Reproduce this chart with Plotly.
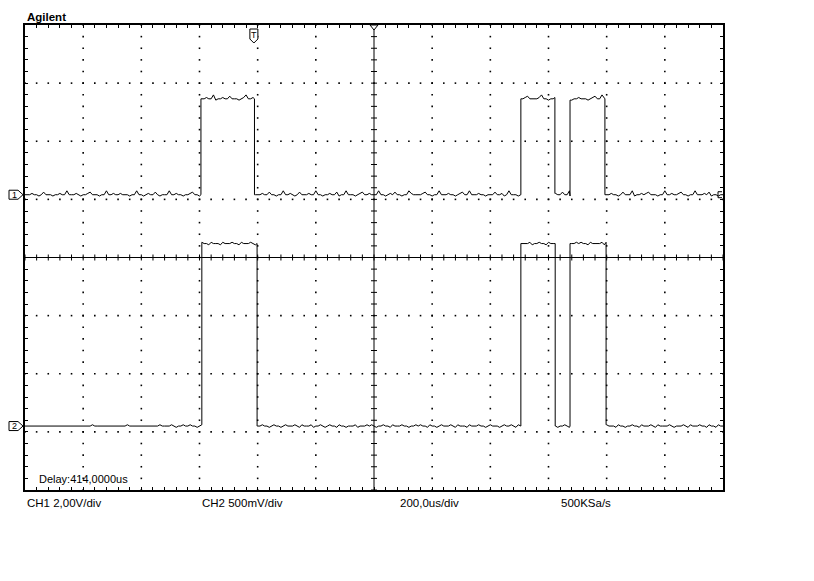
import plotly.graph_objects as go

time_per_div_us = 200
delay_us = 414
n_hdiv = 12
n_vdiv = 8
sample_step_us = 8

ch1_volts_per_div = 2.0
ch2_volts_per_div = 0.5
ch1_offset_div = 1.08
ch2_offset_div = -2.9

ch1_low_v, ch1_high_v = 0.0, 3.3
ch2_low_v, ch2_high_v = 0.0, 1.57

ch1_rise_us = [-181, 919, 1088]
ch1_fall_us = [3, 1036, 1208]
ch2_rise_us = [-178, 919, 1088]
ch2_fall_us = [12, 1037, 1212]

ch1_noise_digits = (
    "4445443464" "4434454474" "4454344564" "4434474454" "4544434474"
    "4345446434" "4474454434" "4564434454" "4734454464" "4434574454"
    "4454464434" "4744543464" "4454474434" "4544634474" "4434564454"
    "4474434546" "4434475444" "4564434474" "4454434564" "4744454434"
    "4464453474" "4434456444" "4574434454" "4644734454" "4434564474"
    "4454434644" "4734454564" "4434474454" "4564434474" "4454634434"
    "4"
)
ch2_noise_digits = (
    "4444444444" "4444444444" "4444444445" "4444444444" "4444544444"
    "4444444454" "4445434454" "4544345443" "5444354445" "4435444543"
    "4454434544" "3454445435" "4445344543" "4544354434" "4453444545"
    "4344544354" "4454434454" "5443544345" "4445435444" "3544454434"
    "5444345445" "4354444534" "4544354443" "4454344545" "4435444453"
    "5444354434" "4544354445" "4354444543" "4445435444" "5443544354"
    "4"
)
ch1_noise_v = [(int(c) - 4) * 0.045 for c in ch1_noise_digits]
ch2_noise_v = [(int(c) - 4) * 0.011 for c in ch2_noise_digits]

label_brand = "Agilent"
label_delay = "Delay:414,0000us"
label_ch1 = "CH1 2,00V/div"
label_ch2 = "CH2 500mV/div"
label_time = "200,0us/div"
label_rate = "500KSa/s"

# ---------------- derived axis geometry ----------------
x_start = delay_us - n_hdiv / 2 * time_per_div_us
x_end = delay_us + n_hdiv / 2 * time_per_div_us
y_lo, y_hi = -n_vdiv / 2, n_vdiv / 2

PAGE_OFF = 8                 # browser body margin
FIG_W, FIG_H = 814 - PAGE_OFF, 581 - PAGE_OFF
SCR_L, SCR_T, PLOT_W, PLOT_H = 25, 25, 698, 465   # plot area in screen pixels
PLOT_L, PLOT_T = SCR_L - PAGE_OFF, SCR_T - PAGE_OFF
px_x = time_per_div_us * n_hdiv / PLOT_W
px_y = n_vdiv / PLOT_H


def build_trace(rises, falls, low, high, noise, vpd, off):
    edges = sorted([(t, low, high) for t in rises] + [(t, high, low) for t in falls])
    xs, ys = [], []
    ei = 0
    for k, n in enumerate(noise):
        t = x_start + k * sample_step_us
        while ei < len(edges) and edges[ei][0] <= t:
            te, a, b = edges[ei]
            xs += [te, te]
            ys += [(a + n) / vpd + off, (b + n) / vpd + off]
            ei += 1
        high_now = any(r <= t < f for r, f in zip(rises, falls))
        v = (high if high_now else low) + n
        xs.append(t)
        ys.append(v / vpd + off)
    return xs, ys


fig = go.Figure()

# center axes with minor ticks
cx = delay_us
cl_x, cl_y = [x_start, x_end, None, cx, cx], [0, 0, None, y_lo, y_hi]
tl = 3 * px_y
for i in range(int(n_hdiv * 5) + 1):
    t = x_start + i * time_per_div_us / 5
    cl_x += [None, t, t]
    cl_y += [None, -tl, tl]
tlx = 3 * px_x
for j in range(n_vdiv * 5 + 1):
    yy = y_lo + j * 0.2
    cl_x += [None, cx - tlx, cx + tlx]
    cl_y += [None, yy, yy]
fig.add_trace(go.Scatter(x=cl_x, y=cl_y, mode="lines",
                         line=dict(color="black", width=1), hoverinfo="skip"))

# dotted graticule
dx, dy = [], []
for k in range(1, n_hdiv):
    if k == n_hdiv // 2:
        continue
    xv = x_start + k * time_per_div_us
    for j in range(n_vdiv * 5 + 1):
        dx.append(xv)
        dy.append(y_lo + j * 0.2)
for j in range(1, n_vdiv):
    yv = y_lo + j
    if abs(yv) < 1e-9:
        continue
    for i in range(n_hdiv * 5 + 1):
        dx.append(x_start + i * time_per_div_us / 5)
        dy.append(yv)
fig.add_trace(go.Scatter(x=dx, y=dy, mode="markers",
                         marker=dict(symbol="square", size=1.6, color="black",
                                     line=dict(width=0)),
                         hoverinfo="skip"))

# signals
x1, y1 = build_trace(ch1_rise_us, ch1_fall_us, ch1_low_v, ch1_high_v,
                     ch1_noise_v, ch1_volts_per_div, ch1_offset_div)
x2, y2 = build_trace(ch2_rise_us, ch2_fall_us, ch2_low_v, ch2_high_v,
                     ch2_noise_v, ch2_volts_per_div, ch2_offset_div)
fig.add_trace(go.Scatter(x=x1, y=y1, mode="lines", line=dict(color="black", width=1),
                         name="CH1"))
fig.add_trace(go.Scatter(x=x2, y=y2, mode="lines", line=dict(color="black", width=1),
                         name="CH2"))

shapes = []
for off in (ch1_offset_div, ch2_offset_div):
    shapes.append(dict(type="path", xref="paper", yref="y",
                       xsizemode="pixel", ysizemode="pixel", xanchor=0, yanchor=off,
                       path="M -16,-4.5 L -7,-4.5 L -2,0 L -7,4.5 L -16,4.5 Z",
                       line=dict(color="black", width=1), fillcolor="white"))
shapes.append(dict(type="path", xref="paper", yref="y",
                   xsizemode="pixel", ysizemode="pixel", xanchor=1, yanchor=ch1_offset_div,
                   path="M -1,3 L -5,3 L -5,-3 L -1,-3",
                   line=dict(color="black", width=1)))
shapes.append(dict(type="path", xref="x", yref="paper",
                   xsizemode="pixel", ysizemode="pixel", xanchor=1, yanchor=1,
                   path="M -4,-4 L 4,-4 L 4,-14 L 0,-18 L -4,-14 Z",
                   line=dict(color="black", width=1), fillcolor="white"))
shapes.append(dict(type="path", xref="x", yref="paper",
                   xsizemode="pixel", ysizemode="pixel", xanchor=delay_us, yanchor=1,
                   path="M -4,0 L 4,0 L 0,-5 Z",
                   line=dict(color="black", width=1), fillcolor="white"))

font = "Liberation Sans, Arial, sans-serif"


def px_to_paper(px, py):
    return (px - SCR_L) / PLOT_W, (SCR_T + PLOT_H - py) / PLOT_H


ann = []
ax, ay = px_to_paper(25, 17)
ann.append(dict(text="<b>%s</b>" % label_brand, x=ax, y=ay, xref="paper", yref="paper",
                xanchor="left", yanchor="middle", showarrow=False,
                font=dict(family=font, size=11.5, color="black")))
for txt, px in ((label_ch1, 25), (label_ch2, 200), (label_time, 398), (label_rate, 559)):
    ax, ay = px_to_paper(px, 503)
    ann.append(dict(text=txt, x=ax, y=ay, xref="paper", yref="paper",
                    xanchor="left", yanchor="middle", showarrow=False,
                    font=dict(family=font, size=11.5, color="black")))
ax, ay = px_to_paper(37, 478.5)
ann.append(dict(text=label_delay, x=ax, y=ay, xref="paper", yref="paper",
                xanchor="left", yanchor="middle", showarrow=False,
                font=dict(family=font, size=11, color="black")))
for i, off in enumerate((ch1_offset_div, ch2_offset_div)):
    ann.append(dict(text=str(i + 1), x=(14 - SCR_L) / PLOT_W, y=off, xref="paper",
                    yref="y", xanchor="center", yanchor="middle", showarrow=False,
                    font=dict(family=font, size=9, color="black")))
ann.append(dict(text="T", x=1, y=1, xref="x", yref="paper", xanchor="center",
                yanchor="top", yshift=-3, showarrow=False,
                font=dict(family=font, size=9, color="black")))

fig.update_layout(
    width=FIG_W, height=FIG_H,
    margin=dict(l=PLOT_L, r=FIG_W - PLOT_L - PLOT_W, t=PLOT_T,
                b=FIG_H - PLOT_T - PLOT_H, pad=0),
    paper_bgcolor="white", plot_bgcolor="white",
    showlegend=False,
    shapes=shapes, annotations=ann,
    xaxis=dict(range=[x_start, x_end], showgrid=False, zeroline=False,
               showline=True, linewidth=2, linecolor="black", mirror="ticks",
               ticks="inside", ticklen=3, tickwidth=1, tickcolor="black",
               tick0=x_start, dtick=time_per_div_us / 5, showticklabels=False,
               fixedrange=True),
    yaxis=dict(range=[y_lo, y_hi], showgrid=False, zeroline=False,
               showline=True, linewidth=2, linecolor="black", mirror="ticks",
               ticks="inside", ticklen=3, tickwidth=1, tickcolor="black",
               tick0=y_lo, dtick=0.2, showticklabels=False, fixedrange=True),
)

fig.write_html("out.html")
